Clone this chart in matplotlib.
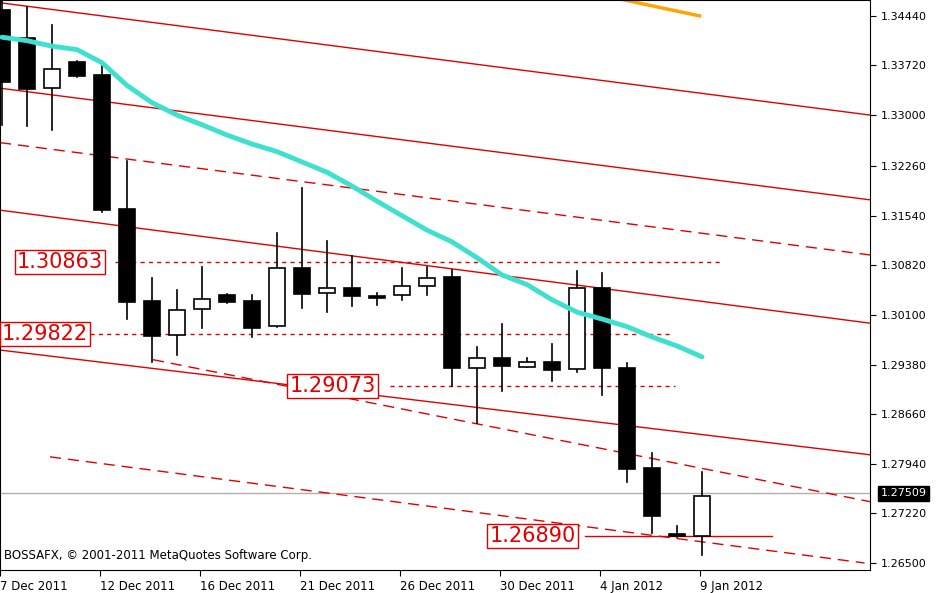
import matplotlib
matplotlib.use("Agg")
import matplotlib.pyplot as plt
import numpy as np

dates = ["7 Dec 2011","12 Dec 2011","16 Dec 2011","21 Dec 2011","26 Dec 2011","30 Dec 2011","4 Jan 2012","9 Jan 2012"]
opens  = [1.3453,1.3412,1.3339,1.3377,1.3358,1.3164,1.3030,1.2981,1.3019,1.3039,1.3030,1.2994,1.3078,1.3042,1.3049,1.3038,1.3039,1.3052,1.3065,1.2933,1.2948,1.2935,1.2942,1.2932,1.3049,1.2933,1.2788,1.2692,1.2689]
highs  = [1.3467,1.3457,1.3431,1.3379,1.3371,1.3233,1.3064,1.3046,1.3080,1.3040,1.3039,1.3129,1.3194,1.3117,1.3096,1.3042,1.3078,1.3080,1.3075,1.2964,1.2997,1.2948,1.2968,1.3074,1.3071,1.2940,1.2810,1.2704,1.2782]
lows   = [1.3286,1.3284,1.3279,1.3355,1.3159,1.3004,1.2942,1.2952,1.2991,1.3027,1.2978,1.2993,1.3020,1.3014,1.3023,1.3024,1.3032,1.3039,1.2907,1.2853,1.2900,1.2935,1.2914,1.2927,1.2894,1.2767,1.2693,1.2688,1.2662]
closes = [1.3348,1.3338,1.3367,1.3357,1.3162,1.3029,1.2980,1.3017,1.3033,1.3029,1.2991,1.3078,1.3040,1.3049,1.3038,1.3035,1.3052,1.3064,1.2933,1.2948,1.2936,1.2942,1.2930,1.3049,1.2933,1.2786,1.2718,1.2689,1.2747]
ma = [1.3413,1.3408,1.3400,1.3395,1.3376,1.3343,1.3318,1.3300,1.3286,1.3271,1.3258,1.3247,1.3232,1.3217,1.3197,1.3175,1.3154,1.3133,1.3116,1.3093,1.3068,1.3054,1.3032,1.3014,1.3004,1.2993,1.2978,1.2965,1.2949]
trend_x0 = [-0.08,-0.08,-0.08,-0.08,-0.08,6.04,1.92]
trend_p0 = [1.3463,1.3339,1.3260,1.3162,1.2959,1.2945,1.2804]
trend_x1 = [34.72,34.72,34.72,34.72,34.72,34.72,34.5]
trend_p1 = [1.3300,1.3177,1.3097,1.2998,1.2807,1.2739,1.2650]
trend_ls = ['-','-','--','-','-','--','--']
levels = [1.30863,1.29822,1.29073,1.26890]
level_x0 = [4.5,2.5,15.5,23.3]
level_x1 = [28.7,26.7,26.9,30.8]
level_lbl_x = [0.6,0.0,11.5,19.5]
yticks = [1.34440,1.33720,1.33000,1.32260,1.31540,1.30820,1.30100,1.29380,1.28660,1.27940,1.27220,1.26500]
current = 1.27509

fig = plt.figure(figsize=(9.48,5.93), dpi=100)
ax = fig.add_axes([0.0, 23/593, 870/948, 570/593])
n = len(opens)
idx = np.arange(n)
for i in idx:
    o,h,l,c = opens[i],highs[i],lows[i],closes[i]
    ax.plot([i,i],[l,h],color='black',lw=1.2,zorder=3)
    face = 'white' if c >= o else 'black'
    ax.bar(i, abs(c-o) if abs(c-o)>0.0002 else 0.0002, bottom=min(o,c), width=0.64,
           color=face, edgecolor='black', lw=1.2, zorder=4)
ax.plot(idx, ma, color='#40E0D0', lw=3.5, zorder=5, solid_capstyle='round')
ax.plot([24.9,27.9],[1.3467,1.3444],color='orange',lw=2.5,zorder=2)
for x0,p0,x1,p1,ls in zip(trend_x0,trend_p0,trend_x1,trend_p1,trend_ls):
    if ls == '--':
        ax.plot([x0,x1],[p0,p1],color='#e00000',lw=1,ls=(0,(8,5)),zorder=2)
    else:
        ax.plot([x0,x1],[p0,p1],color='#e00000',lw=1,zorder=2)
for k,(lv,x0,x1,lx) in enumerate(zip(levels,level_x0,level_x1,level_lbl_x)):
    ax.plot([x0,x1],[lv,lv],color='#e00000',lw=1,ls='-' if k==3 else (0,(3,3)),zorder=2)
    ax.text(lx,lv,f"{lv:.5f}",color='#e00000',fontsize=15,va='center',ha='left',zorder=6,
            bbox=dict(boxstyle='square,pad=0.1',fc='white',ec='#e00000',lw=1))
ax.axhline(current,color='#b0b0b0',lw=1,zorder=1)
ax.set_xlim(-0.08,34.72)
ax.set_ylim(1.26398,1.3467)
ax.yaxis.tick_right()
ax.set_yticks(yticks)
ax.set_yticklabels([f"{t:.5f}" for t in yticks],fontsize=8)
ax.set_xticks([4*k-0.08 for k in range(len(dates))])
ax.set_xticklabels(dates,fontsize=8.5,ha='left')
ax.tick_params(axis='x',length=4,pad=3)
ax.tick_params(axis='y',length=4,pad=4)
for s in ax.spines.values(): s.set_color('black')
ax.text(0.005,0.02,"BOSSAFX, © 2001-2011 MetaQuotes Software Corp.",transform=ax.transAxes,fontsize=8.5,zorder=7)
ax.text(1.012,current,"1.27509",transform=ax.get_yaxis_transform(),color='white',fontsize=8,va='center',
        bbox=dict(boxstyle='square,pad=0.2',fc='black',ec='black'),clip_on=False)
fig.savefig("out.png",dpi=100)
